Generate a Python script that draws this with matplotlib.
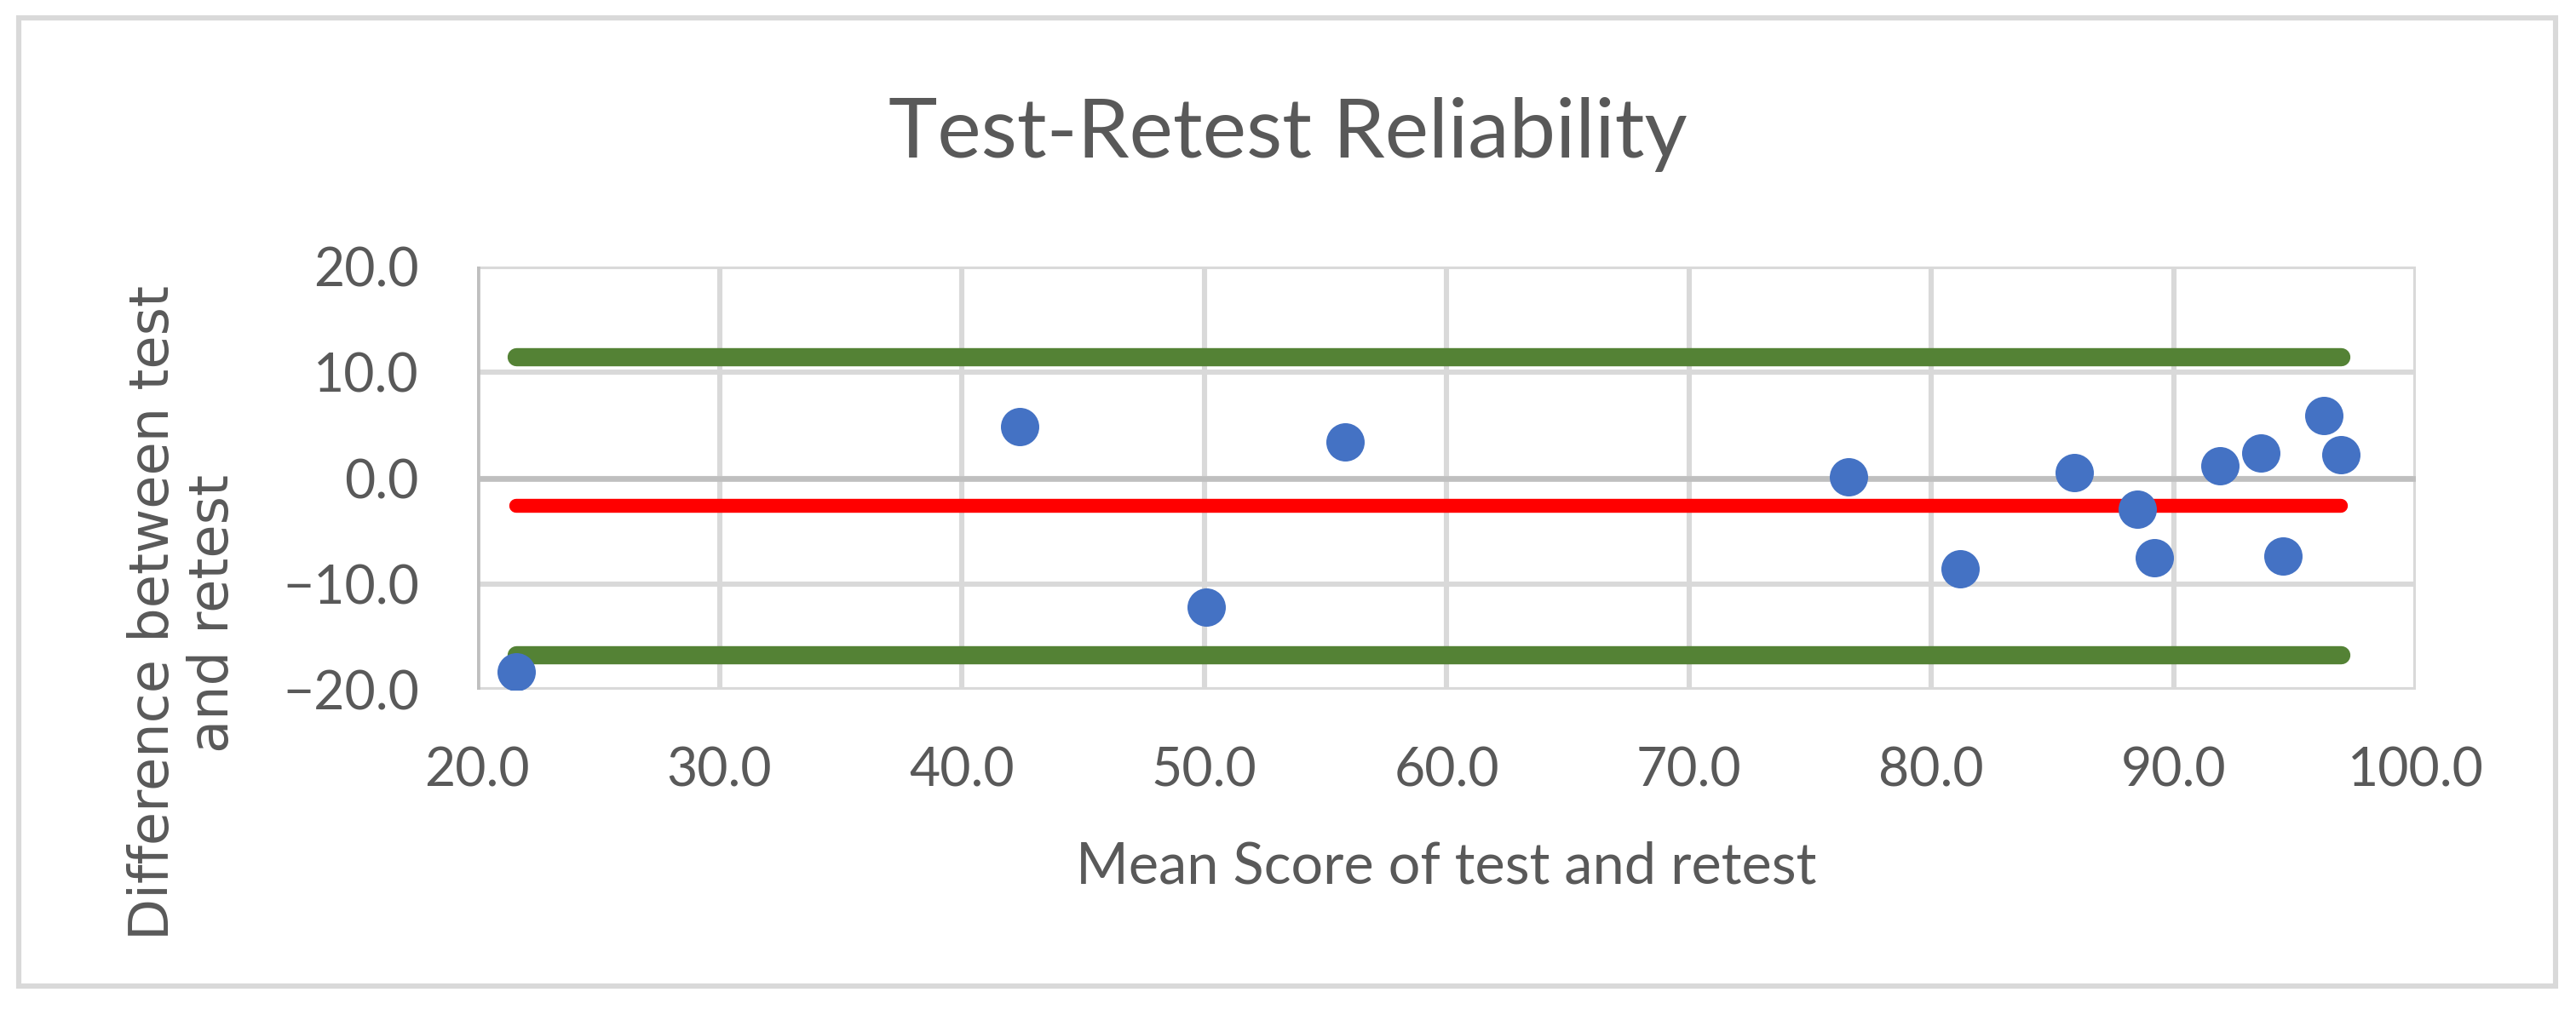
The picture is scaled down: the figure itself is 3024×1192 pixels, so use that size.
import matplotlib
matplotlib.use("Agg")
import matplotlib.pyplot as plt
from matplotlib.patches import Rectangle
import numpy as np

# ---- data ----
mean_score = [21.6, 42.4, 50.1, 55.8, 76.6, 81.2, 85.9, 88.5, 89.2, 91.9, 93.6, 94.5, 96.2, 96.9]
difference = [-18.3, 4.9, -12.2, 3.4, 0.1, -8.6, 0.5, -2.9, -7.5, 1.2, 2.4, -7.4, 5.9, 2.2]
mean_diff = -2.65
upper_loa = 11.43
lower_loa = -16.73
x_ticks = [20, 30, 40, 50, 60, 70, 80, 90, 100]
y_ticks = [-20, -10, 0, 10, 20]

title = "Test-Retest Reliability"
x_label = "Mean Score of test and retest"
y_label = "Difference between test\nand retest"

TXT = "#595959"
GRID = "#D9D9D9"
AXIS = "#BFBFBF"
FONT = ["Lato", "DejaVu Sans"]

W, H, DPI = 3024, 1192, 200
fig = plt.figure(figsize=(W / DPI, H / DPI), dpi=DPI)
fig.patch.set_facecolor("white")

# outer chart border
fig.patches.append(Rectangle((22 / W, 1 - 1158 / H), (3000 - 22) / W, (1158 - 21) / H,
                             transform=fig.transFigure, fill=False, edgecolor=GRID,
                             linewidth=2.2, zorder=0))

ax = fig.add_axes([560 / W, 1 - 810 / H, (2836 - 560) / W, (810 - 313) / H])
ax.set_xlim(x_ticks[0], x_ticks[-1])
ax.set_ylim(y_ticks[0], y_ticks[-1])

# grid
for xv in x_ticks:
    ax.axvline(xv, color=GRID, linewidth=2.2, zorder=0.5)
for yv in y_ticks:
    ax.axhline(yv, color=GRID, linewidth=2.2, zorder=0.5)
ax.axhline(0, color=AXIS, linewidth=2.4, zorder=0.6)
ax.axvline(x_ticks[0], color=AXIS, linewidth=2.4, zorder=0.6)

for s in ax.spines.values():
    s.set_visible(False)

xr = [min(mean_score), max(mean_score)]
ax.plot(xr, [upper_loa, upper_loa], color="#548235", linewidth=7.7,
        solid_capstyle="round", zorder=2)
ax.plot(xr, [lower_loa, lower_loa], color="#548235", linewidth=7.7,
        solid_capstyle="round", zorder=2)
ax.plot(xr, [mean_diff, mean_diff], color="#FF0000", linewidth=5.9,
        solid_capstyle="round", zorder=2)

ax.plot(mean_score, difference, linestyle="none", marker="o", markersize=16.2,
        markerfacecolor="#4472C4", markeredgewidth=0, zorder=3)

ax.set_xticks(x_ticks)
ax.set_xticklabels([f"{v:.1f}" for v in x_ticks], family=FONT, fontsize=22.5, color=TXT)
ax.set_yticks(y_ticks)
ax.set_yticklabels([f"{v:.1f}".replace("-", "\u2212") for v in y_ticks],
                   family=FONT, fontsize=22.5, color=TXT)
ax.tick_params(axis="x", length=0, pad=24)
ax.tick_params(axis="y", length=0, pad=24.5)

fig.text(1512 / W, 1 - 185 / H, title, ha="center", va="baseline",
         family=FONT, fontsize=35, color=TXT)
fig.text(1698 / W, 1 - 1038 / H, x_label, ha="center", va="baseline",
         family=FONT, fontsize=24, color=TXT)
fig.text(215 / W, 1 - 720 / H, y_label, ha="center", va="center", rotation=90,
         multialignment="center", family=["DejaVu Sans"], fontsize=23, color=TXT,
         linespacing=1.15)

fig.savefig("out.png", dpi=DPI, facecolor="white")
